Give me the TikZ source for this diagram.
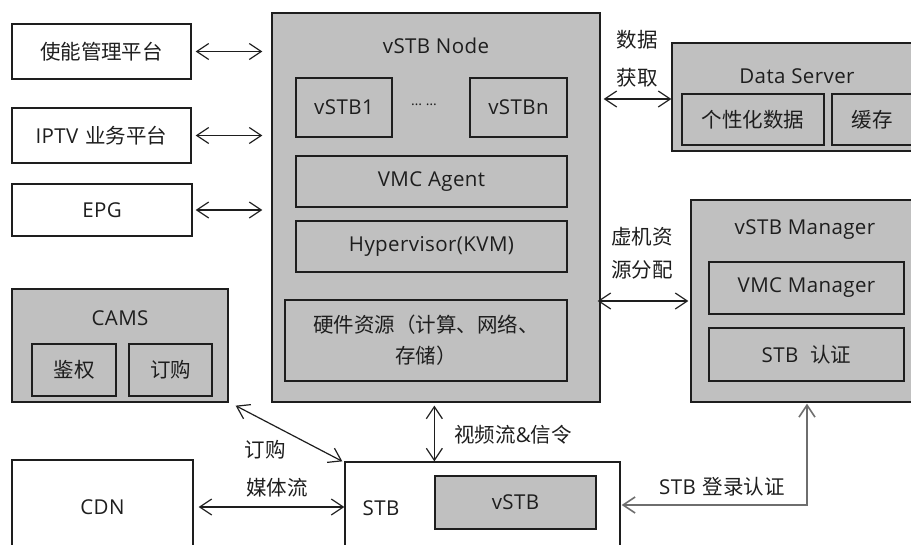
\documentclass[tikz,border=0pt]{standalone}
\usepackage{fontspec}
\setmainfont{Open Sans}[LetterSpace=2]
\newfontfamily\zh{Noto Sans CJK SC}
\usetikzlibrary{arrows.meta}
\definecolor{boxgray}{RGB}{192,192,192}
\definecolor{ink}{RGB}{30,30,30}
\definecolor{linkgray}{RGB}{110,110,110}
\begin{document}
\begin{tikzpicture}[x=1pt,y=-1pt,
  every node/.style={font=\fontsize{20.5}{24}\selectfont, text=ink},
  wbox/.style={draw=ink, line width=1.3pt, fill=white, inner sep=0pt},
  gbox/.style={draw=ink, line width=1.3pt, fill=boxgray, inner sep=0pt},
  lbl/.style={inner sep=0pt},
  barb/.tip={Straight Barb[length=12pt,width=16pt]},
  link/.style={draw=ink, line width=1.2pt, barb-barb},
  glink/.style={draw=linkgray, line width=1.6pt, barb-barb},
]
\fill[white] (0,0) rectangle (911,544);
\useasboundingbox (0,0) rectangle (911,544);

% platforms on the left
\node[wbox, minimum width=179pt, minimum height=55pt] (p1) at (101.5,51.5) {\zh 使能管理平台};
\node[wbox, minimum width=179pt, minimum height=55pt] (p2) at (101.5,135.5) {IPTV\hspace{7pt}{\zh 业务平台}};
\node[wbox, minimum width=180pt, minimum height=52pt] (p3) at (102,210) {EPG};

% vSTB node
\node[gbox, minimum width=328pt, minimum height=389pt] (node) at (436,207.5) {};
\node[lbl] (nodet) at (436,46) {vSTB Node};
\node[gbox, minimum width=96pt, minimum height=59pt] (v1) at (344,107.5) {vSTB1};
\node[lbl, font=\fontsize{14}{16}\selectfont] (dots) at (424,105) {\ldots\ \ldots};
\node[gbox, minimum width=97pt, minimum height=59pt] (vn) at (518.5,107.5) {vSTBn};
\node[gbox, minimum width=271pt, minimum height=51pt] (agent) at (431.5,181.5) {VMC Agent};
\node[gbox, minimum width=271pt, minimum height=51pt] (hyp) at (431.5,246.5) {Hypervisor(KVM)};
\node[gbox, minimum width=282pt, minimum height=81pt, align=center,
      font=\fontsize{20.5}{31}\selectfont] (hw) at (426,340.5)
      {\zh 硬件资源（计算、网络、\\\zh 存储）};

% data server
\node[gbox, minimum width=250pt, minimum height=108pt] (ds) at (797,97) {};
\node[lbl] (dst) at (797,76) {Data Server};
\node[gbox, minimum width=142pt, minimum height=51pt] (d1) at (753,119.5) {\zh 个性化数据};
\node[gbox, minimum width=80pt, minimum height=51pt] (d2) at (872,119.5) {\zh 缓存};

% vSTB manager
\node[gbox, minimum width=228pt, minimum height=202pt] (mgr) at (805,301) {};
\node[lbl] (mgrt) at (805,230) {vSTB Manager};
\node[gbox, minimum width=195pt, minimum height=52pt] (vmcm) at (806.5,288) {VMC Manager};
\node[gbox, minimum width=195pt, minimum height=53pt] (auth) at (806.5,354.5) {STB\hspace{12pt}{\zh 认证}};

% CAMS
\node[gbox, minimum width=216pt, minimum height=113pt] (cams) at (120,345.5) {};
\node[lbl] (camst) at (120,318) {CAMS};
\node[gbox, minimum width=84pt, minimum height=52pt] (c1) at (74,370) {\zh 鉴权};
\node[gbox, minimum width=83pt, minimum height=52pt] (c2) at (170.5,370) {\zh 订购};

% CDN and STB
\node[wbox, minimum width=181pt, minimum height=94pt] (cdn) at (102.5,507) {CDN};
\node[wbox, minimum width=275pt, minimum height=92pt] (stb) at (482.5,508) {};
\node[lbl] (stbt) at (381,508) {STB};
\node[gbox, minimum width=161pt, minimum height=53pt] (vstb) at (515.5,502.5) {vSTB};

% connector labels
\node[lbl] (lab1) at (637,40) {\zh 数据};
\node[lbl] (lab2) at (637,78) {\zh 获取};
\node[lbl] (lab3) at (642,237) {\zh 虚机资};
\node[lbl] (lab4) at (642,270) {\zh 源分配};
\node[lbl] (lab5) at (513,435) {{\zh 视频流}\&{\zh 信令}};
\node[lbl] (lab6) at (265,450) {\zh 订购};
\node[lbl] (lab7) at (277,488) {\zh 媒体流};
\node[lbl] (lab8) at (722,487) {STB\hspace{7pt}{\zh 登录认证}};

% connectors
\draw[link] ([xshift=4pt]p1.east) -- ([xshift=-9pt]node.west |- p1.east);
\draw[link] ([xshift=4pt]p2.east) -- ([xshift=-9pt]node.west |- p2.east);
\draw[link] ([xshift=3pt]p3.east) -- ([xshift=-9pt]node.west |- p3.east);
\coordinate (dsy) at (0,99);
\draw[link] ([xshift=3pt]node.east |- dsy) -- (ds.west |- dsy);
\draw[link] ([xshift=-3pt]node.east |- mgr.center) -- ([xshift=-2pt]mgr.west);
\draw[link] ([shift={(7,3)}]cams.south east) -- ([xshift=-2pt]stb.north west);
\draw[link] ([yshift=-3pt]node.south -| vstb.west) -- (stb.north -| vstb.west);
\draw[link] ([xshift=5pt]cdn.east) -- (stb.west |- cdn.east);
\coordinate (corner) at (807,505);
\draw[glink] ([xshift=1pt]stb.east |- corner) -- (corner) -- ([yshift=-1pt]mgr.south -| corner);
\end{tikzpicture}
\end{document}
